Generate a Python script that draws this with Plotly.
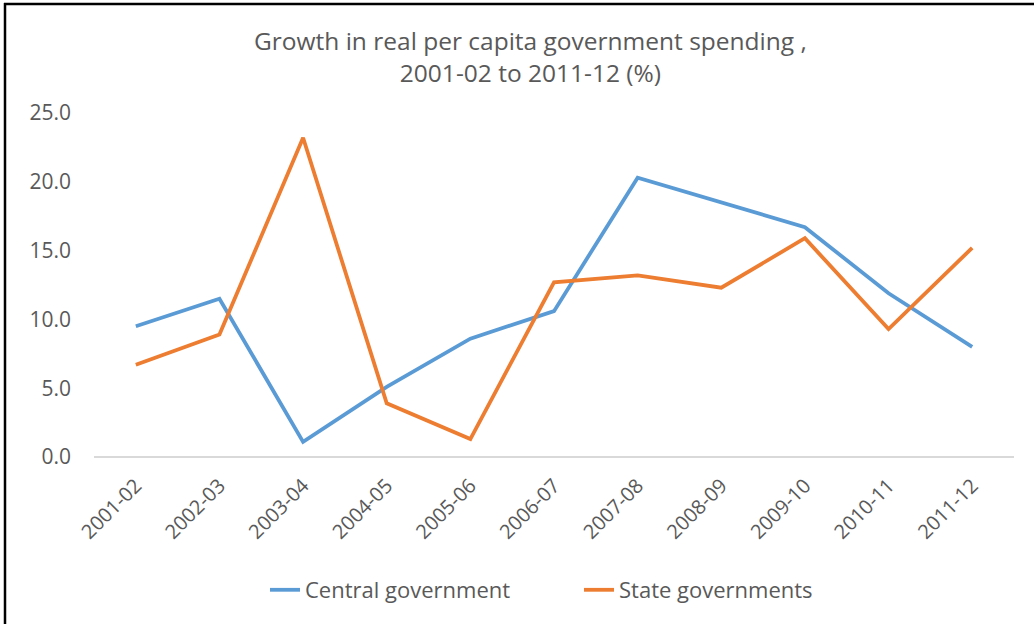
import plotly.graph_objects as go

years = ["2001-02", "2002-03", "2003-04", "2004-05", "2005-06", "2006-07",
         "2007-08", "2008-09", "2009-10", "2010-11", "2011-12"]
central = [9.5, 11.5, 1.1, 5.1, 8.6, 10.6, 20.3, 18.5, 16.7, 11.9, 8.0]
state = [6.7, 8.9, 23.2, 3.9, 1.3, 12.7, 13.2, 12.3, 15.9, 9.3, 15.2]
y_ticks = [0, 5, 10, 15, 20, 25]
y_tick_text = ["0.0", "5.0", "10.0", "15.0", "20.0", "25.0"]

W, H = 1034, 624
L, R, T, B = 94, 20, 113, 167
pw, ph = W - L - R, H - T - B

def px(x):
    return (x - L) / pw

def py(y):
    return (H - B - y) / ph

gray = "#595959"

fig = go.Figure()
fig.add_trace(go.Scatter(x=years, y=central, mode="lines", name="Central government",
                         line=dict(color="#5B9BD5", width=3.8)))
fig.add_trace(go.Scatter(x=years, y=state, mode="lines", name="State governments",
                         line=dict(color="#ED7D31", width=3.8)))

fig.update_layout(
    width=W, height=H,
    margin=dict(l=L, r=R, t=T, b=B, pad=0),
    paper_bgcolor="white", plot_bgcolor="white",
    showlegend=True,
    legend=dict(orientation="h", x=px(265), xanchor="left", y=py(590), yanchor="middle",
                font=dict(family="Open Sans", size=22, color=gray),
                entrywidth=269, entrywidthmode="pixels", tracegroupgap=0),
    xaxis=dict(type="category", tickangle=-45, showgrid=False, zeroline=False,
               showline=False, ticks="", range=[-0.5, 10.5], ticklabelstandoff=12,
               tickfont=dict(family="Open Sans", size=20, color=gray)),
    yaxis=dict(range=[0, 25], tickvals=y_ticks, ticktext=y_tick_text, showgrid=False,
               zeroline=True, zerolinecolor="#D9D9D9", zerolinewidth=1.5,
               ticks="", ticklabelstandoff=22,
               tickfont=dict(family="Open Sans", size=21, color=gray)),
    annotations=[
        dict(text="Growth in real per capita government spending ,<br>2001-02 to 2011-12 (%)",
             x=px(530), y=py(57), xref="paper", yref="paper", xanchor="center", yanchor="middle",
             showarrow=False, align="center",
             font=dict(family="Open Sans", size=24.5, color=gray)),
    ],
    shapes=[
        dict(type="line", xref="paper", yref="paper", x0=px(4), x1=px(1034), y0=py(4), y1=py(4),
             line=dict(color="black", width=2.5)),
        dict(type="line", xref="paper", yref="paper", x0=px(5), x1=px(5), y0=py(3), y1=py(624),
             line=dict(color="black", width=2.5)),
    ],
)

fig.write_html("out.html")
